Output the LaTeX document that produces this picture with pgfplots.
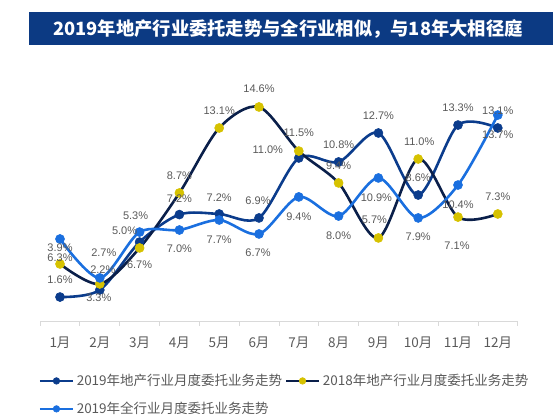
\documentclass[border=0pt]{standalone}
\usepackage{pgfplots}
\pgfplotsset{compat=1.18}
\usepackage{pgfplotstable}
\usepackage{fontspec}
\setmainfont{Liberation Sans}
\newfontfamily\cjk{Noto Sans CJK SC}
\definecolor{banner}{HTML}{0C3A83}
\definecolor{cD}{HTML}{0B3C8C}
\definecolor{cL}{HTML}{1A6FDF}
\definecolor{cY}{HTML}{D6C200}
\definecolor{cN}{HTML}{0A1F4A}
\definecolor{labgray}{HTML}{595959}
\definecolor{axgray}{HTML}{D9D9D9}

% 2019 real estate
\pgfplotstableread{
x y dx dy lab
1 1.63 0 17 1.6
2 2.11 -1 -8 3.3
3 5.37 0 -23 6.7
4 7.24 0 16 7.2
5 7.28 0 16 7.2
6 7.01 -1 17 6.9
7 11.09 -31 8 11.0
8 10.82 0 17 10.8
9 12.79 0 17 12.7
10 8.57 0 17 8.6
11 13.33 0 17 13.3
12 13.13 0 -7 13.7
}\dataD
% 2018 real estate
\pgfplotstableread{
x y dx dy lab
1 3.88 0 6 6.3
2 2.52 3 14 2.2
3 4.97 -15 17 5.0
4 8.71 0 17 8.7
5 13.13 0 17 13.1
6 14.56 0 18 14.6
7 11.56 0 18 11.5
8 9.39 0 17 9.4
9 5.65 -4 18 5.7
10 11.02 1 17 11.0
11 7.07 -1 -29 7.1
12 7.28 0 17 7.3
}\dataY
% 2019 all industry
\pgfplotstableread{
x y dx dy lab
1 5.58 0 -9 3.9
2 2.93 4 25 2.7
3 6.05 -4 16 5.3
4 6.19 0 -19 7.0
5 6.87 0 -20 7.7
6 5.92 -1 -19 6.7
7 8.44 0 -20 9.4
8 7.14 0 -20 8.0
9 9.73 -2 -20 10.9
10 7.01 0 -19 7.9
11 9.25 0 -20 10.4
12 14.01 0 4 13.1
}\dataL

\pgfplotsset{
  labelplot/.style={draw=none, mark=none, forget plot,
     point meta=explicit symbolic,
     nodes near coords={\pgfplotspointmeta\%},
     every node near coord/.style={anchor=center, text=labgray,
        font=\fontsize{11}{12}\selectfont, inner sep=0pt}},
}

\begin{document}
\begin{tikzpicture}
\path[use as bounding box] (0,0) rectangle (558pt,420pt);
\fill[banner] (29pt,375.2pt) rectangle (553pt,407.5pt);
\node[text=white, inner sep=0pt] at (288pt,391.3pt) {\cjk\bfseries\fontsize{18.3}{18}\selectfont 2019年地产行业委托走势与全行业相似，与18年大相径庭};
\begin{axis}[
  at={(40.1pt,99pt)}, anchor=south west,
  scale only axis, width=477.6pt, height=235.2pt,
  xmin=0.5, xmax=12.5, ymin=0, ymax=16,
  clip=false,
  axis x line=bottom, axis y line=none,
  x axis line style={-, draw=axgray, line width=0.8pt},
  xtick={1,...,12},
  xticklabels={1月,2月,3月,4月,5月,6月,7月,8月,9月,10月,11月,12月},
  major tick length=0pt,
  minor xtick={0.5,1.5,...,12.5},
  minor tick length=5pt,
  tick align=outside,
  xtick pos=bottom,
  every tick/.style={draw=axgray, line width=0.8pt},
  minor tick style={draw=axgray, line width=0.8pt},
  xticklabel style={font=\cjk\fontsize{13.5}{14}\selectfont, text=labgray, yshift=-12pt},
  legend columns=2,
  legend style={at={(-0.003,-0.221)}, anchor=north west, draw=none, fill=none,
     inner sep=0pt, outer sep=0pt,
     font=\cjk\fontsize{13.5}{15}\selectfont, text=labgray,
     /tikz/column sep=1pt, /tikz/row sep=12pt,
     nodes={inner sep=1.5pt}},
  legend cell align=left,
  legend image code/.code={
     \draw[mark repeat=2, mark phase=2, mark size=3.3pt] plot coordinates {(0pt,0pt) (16.5pt,0pt) (33pt,0pt)};
  },
]
\addplot[cD, line width=2.6pt, smooth, mark=*, mark size=4.5pt, mark options={solid, draw=cD, line width=0.6pt, fill=cD}]
  table[x=x, y=y] {\dataD};
\addlegendentry{2019年地产行业月度委托业务走势}
\addplot[cN, line width=2.6pt, smooth, mark=*, mark size=4.5pt, mark options={solid, draw=cY, line width=0.6pt, fill=cY}]
  table[x=x, y=y] {\dataY};
\addlegendentry{2018年地产行业月度委托业务走势}
\addplot[cL, line width=2.6pt, smooth, mark=*, mark size=4.5pt, mark options={solid, draw=cL, line width=0.6pt, fill=cL}]
  table[x=x, y=y] {\dataL};
\addlegendentry{2019年全行业月度委托业务走势}
% data labels
\addplot[labelplot] table[x expr=\thisrow{x}+\thisrow{dx}/39.8, y expr=\thisrow{y}+\thisrow{dy}/14.7, meta=lab] {\dataD};
\addplot[labelplot] table[x expr=\thisrow{x}+\thisrow{dx}/39.8, y expr=\thisrow{y}+\thisrow{dy}/14.7, meta=lab] {\dataY};
\addplot[labelplot] table[x expr=\thisrow{x}+\thisrow{dx}/39.8, y expr=\thisrow{y}+\thisrow{dy}/14.7, meta=lab] {\dataL};
\end{axis}
\end{tikzpicture}
\end{document}
